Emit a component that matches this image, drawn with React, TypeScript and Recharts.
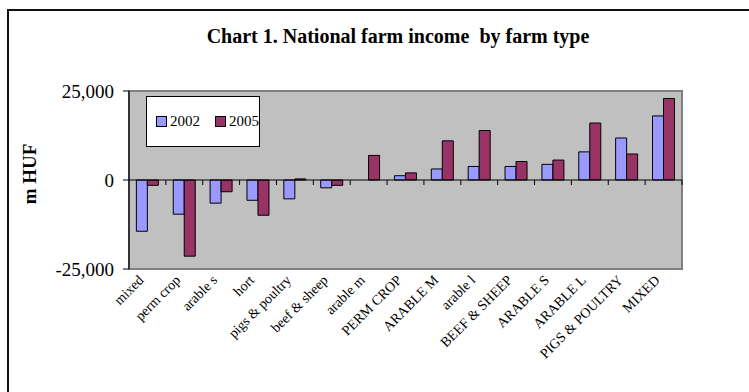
import { BarChart, Bar, XAxis, YAxis, ReferenceArea, ReferenceLine } from "recharts";

// Data
const categories = [
	"mixed",
	"perm crop",
	"arable s",
	"hort",
	"pigs & poultry",
	"beef & sheep",
	"arable m",
	"PERM CROP",
	"ARABLE M",
	"arable l",
	"BEEF & SHEEP",
	"ARABLE S",
	"ARABLE L",
	"PIGS & POULTRY",
	"MIXED",
];
const values2002 = [-14400, -9600, -6500, -5700, -5300, -2200, 0, 1200, 3100, 3800, 3800, 4400, 7900, 11800, 18000];
const values2005 = [-1500, -21400, -3300, -9900, 300, -1500, 6900, 2000, 11000, 13900, 5200, 5600, 16000, 7300, 22900];
const seriesNames = ["2002", "2005"];
const seriesColors = ["#9999ff", "#993366"];
const yTicks = [-25000, 0, 25000];

const FONT = '"Liberation Serif", "Times New Roman", serif';

const data = categories.map((name, i) => ({
	name,
	y2002: values2002[i],
	y2005: values2005[i],
}));

const ZeroLine = (props: any) => {
	const { x1, y1, x2, y2 } = props;
	const step = (x2 - x1) / categories.length;
	return (
		<g>
			<line x1={x1} y1={y1} x2={x2} y2={y2} stroke="#000" strokeWidth={1.2} />
			{categories.map((_, i) => (
				<line
					key={i}
					x1={x1 + step * (i + 1)}
					x2={x1 + step * (i + 1)}
					y1={y1}
					y2={y1 + 5}
					stroke="#000"
					strokeWidth={1}
				/>
			))}
		</g>
	);
};

const XTick = (props: any) => {
	const { x, y, payload } = props;
	const ax = x - 3;
	const ay = y + 12;
	return (
		<text
			x={ax}
			y={ay}
			transform={`rotate(-45 ${ax} ${ay})`}
			textAnchor="end"
			fontFamily={FONT}
			fontSize={14}
			fill="#000"
		>
			{payload.value}
		</text>
	);
};

const App = () => {
	return (
		<div
			style={{
				position: "absolute",
				left: 0,
				top: 0,
				width: 749,
				height: 392,
				background: "#fff",
				fontFamily: FONT,
				overflow: "hidden",
			}}
		>
			{/* frame */}
			<div
				style={{
					position: "absolute",
					left: 7,
					top: 9,
					width: 760,
					height: 400,
					borderTop: "2px solid #111",
					borderLeft: "2px solid #111",
				}}
			/>
			<div
				style={{
					position: "absolute",
					left: 98,
					top: 25,
					width: 600,
					textAlign: "center",
					fontSize: 20,
					fontWeight: "bold",
				}}
			>
				Chart 1. National farm income&nbsp; by farm type
			</div>
			<div
				style={{
					position: "absolute",
					left: 30,
					top: 174,
					transform: "translate(-50%, -50%) rotate(-90deg)",
					fontSize: 19,
					fontWeight: "bold",
					whiteSpace: "nowrap",
				}}
			>
				m HUF
			</div>
			<BarChart
				width={749}
				height={392}
				data={data}
				margin={{ top: 91, right: 67, bottom: 0, left: 0 }}
				barCategoryGap="20%"
				barGap={0}
				style={{ position: "absolute", left: 0, top: 0 }}
			>
				<ReferenceArea
					y1={-25000}
					y2={25000}
					fill="#c0c0c0"
					fillOpacity={1}
					stroke="#808080"
					strokeWidth={2}
				/>
				<XAxis
					dataKey="name"
					interval={0}
					axisLine={false}
					tickLine={false}
					tickSize={0}
					tickMargin={0}
					height={123}
					tick={<XTick />}
				/>
				<YAxis
					width={129}
					domain={[-25000, 25000]}
					ticks={yTicks}
					tickFormatter={(v: number) => v.toLocaleString("en-US")}
					axisLine={{ stroke: "#000", strokeWidth: 1.2 }}
					tickLine={{ stroke: "#000" }}
					tickSize={6}
					tickMargin={9}
					tick={{ fill: "#000", fontSize: 19, fontFamily: FONT }}
				/>
				<ReferenceLine y={0} shape={<ZeroLine />} />
				<Bar dataKey="y2002" name={seriesNames[0]} fill={seriesColors[0]} stroke="#000" strokeWidth={1} isAnimationActive={false} />
				<Bar dataKey="y2005" name={seriesNames[1]} fill={seriesColors[1]} stroke="#000" strokeWidth={1} isAnimationActive={false} />
			</BarChart>
			{/* legend */}
			<div
				style={{
					position: "absolute",
					left: 146,
					top: 96,
					width: 114,
					height: 51,
					border: "1px solid #000",
					background: "#fff",
					display: "flex",
					alignItems: "center",
					paddingLeft: 9,
					boxSizing: "border-box",
					fontSize: 15,
				}}
			>
				{seriesNames.map((s, i) => (
					<div key={s} style={{ display: "flex", alignItems: "center", marginRight: 15 }}>
						<span
							style={{
								display: "inline-block",
								width: 9,
								height: 9,
								background: seriesColors[i],
								border: "1px solid #000",
								marginRight: 3,
							}}
						/>
						<span>{s}</span>
					</div>
				))}
			</div>
		</div>
	);
};

export default App;
